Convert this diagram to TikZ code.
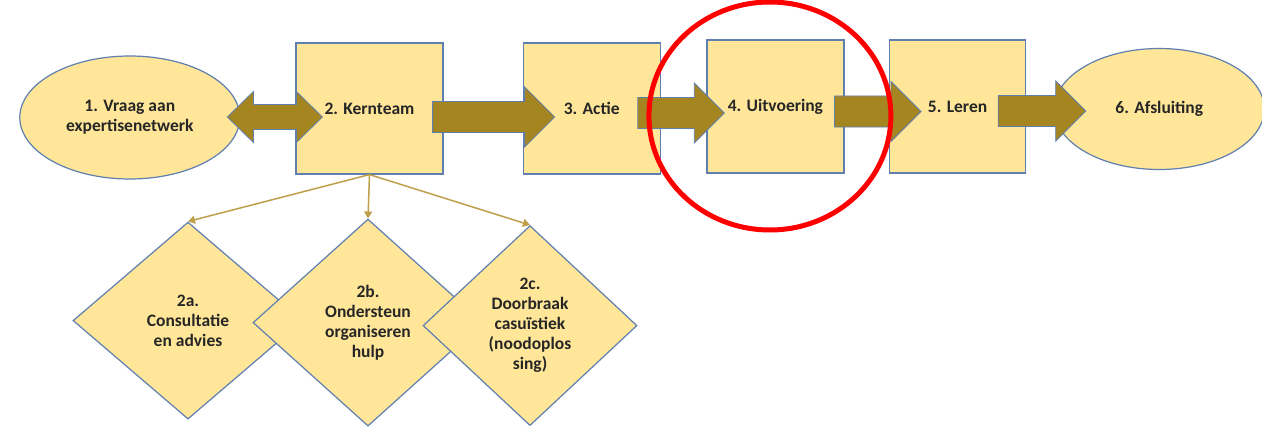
\documentclass[tikz,border=0pt]{standalone}
\usepackage{fontspec}
\setmainfont{Carlito}
\usetikzlibrary{shapes.geometric,positioning,calc,arrows.meta}

\definecolor{boxfill}{HTML}{FFE699}
\definecolor{boxline}{HTML}{5F7FB0}
\definecolor{arrowfill}{HTML}{A5851F}
\definecolor{linkline}{HTML}{BFA04A}
\definecolor{txt}{HTML}{262626}

% block arrow from tail (only x used) to tip
\newcommand{\fatarrow}[2]{%
  \draw[bigarrow] let \p1=#1, \p2=#2 in
    (\x1,\y2+15.5pt) -- (\x2-30pt,\y2+15.5pt) -- (\x2-30pt,\y2+30pt) -- (\x2,\y2)
    -- (\x2-30pt,\y2-30pt) -- (\x2-30pt,\y2-15.5pt) -- (\x1,\y2-15.5pt) -- cycle;}

\begin{document}
\begin{tikzpicture}[x=1pt, y=-1pt,
      nodes={
        font=\fontsize{17.5}{20}\selectfont\bfseries, text=txt,
        align=center, inner sep=0pt
      },
      stage/.style={rectangle, draw=boxline, line width=1.2pt, fill=boxfill},
      endpoint/.style={ellipse, draw=boxline, line width=1.2pt, fill=boxfill},
      sub/.style={diamond, draw=boxline, line width=1.2pt, fill=boxfill},
      bigarrow/.style={draw=boxline, line width=0.8pt, fill=arrowfill},
      link/.style={draw=linkline, line width=1.5pt, -{Triangle[width=8pt,length=7pt]}},
      focus/.style={draw=red, line width=5pt}
      ]

      \useasboundingbox[fill=white] (0,0) rectangle (1262,428);

      \node[stage, minimum width=147pt, minimum height=131pt] (b2) at (369.5,108.5) {2. Kernteam};
      \node[endpoint, minimum width=220pt, minimum height=123pt, left=55pt of b2, yshift=-9pt] (e1) {1. Vraag aan\\expertisenetwerk};
      \node[stage, minimum width=137pt, minimum height=131pt, right=79pt of b2] (b3) {3. Actie};
      \node[stage, minimum width=137pt, minimum height=133pt, right=45.5pt of b3, yshift=2pt] (b4) {4. Uitvoering};
      \node[stage, minimum width=136pt, minimum height=133pt, right=44.5pt of b4] (b5) {5. Leren};
      \node[endpoint, minimum width=210pt, minimum height=121pt, right=27.5pt of b5, yshift=-2.5pt] (e6) {6. Afsluiting};

      \node[sub, minimum width=230pt, minimum height=197pt] (d2a) at ($(b2.south)+(-181.5,146)$) {2a.\\Consultatie\\en advies};
      \node[sub, minimum width=230pt, minimum height=207pt] (d2b) at ($(b2.south)+(-1.5,148)$) {2b.\\Ondersteun\\organiseren\\hulp};
      \node[sub, minimum width=214pt, minimum height=200pt] (d2c) at ($(b2.south)+(160.5,151)$) {2c.\\Doorbraak\\casuïstiek\\(noodoplos\\sing)};

  % Connect the nodes
 \draw[bigarrow] let \p1=($(e1.east)+(-13,0)$), \p2=($(b2.west)+(27,8.5)$) in
    (\x1,\y2) -- (\x1+26pt,\y2+25.5pt) -- (\x1+26pt,\y2+12.5pt) -- (\x2-26pt,\y2+12.5pt)
    -- (\x2-26pt,\y2+25.5pt) -- (\x2,\y2) -- (\x2-26pt,\y2-25.5pt) -- (\x2-26pt,\y2-12.5pt)
    -- (\x1+26pt,\y2-12.5pt) -- (\x1+26pt,\y2-25.5pt) -- cycle;
 \fatarrow{($(b2.east)+(-11,0)$)}{($(b3.west)+(32,8.5)$)}
 \fatarrow{($(b3.east)+(-23,0)$)}{($(b4.west)+(18,6.5)$)}
 \fatarrow{($(b4.east)+(-10,0)$)}{($(b5.west)+(32,5)$)}
 \fatarrow{($(b5.east)+(-28,0)$)}{($(e6.west)+(32,2)$)}

 \draw[link] (b2.south) -- (d2a.north);
 \draw[link] (b2.south) -- (d2b.north);
 \draw[link] (b2.south) -- (d2c.north);

 \draw[focus] ($(b4.center)+(-5.5,9.5)$) ellipse [x radius=121pt, y radius=114pt];

\end{tikzpicture}
\end{document}
